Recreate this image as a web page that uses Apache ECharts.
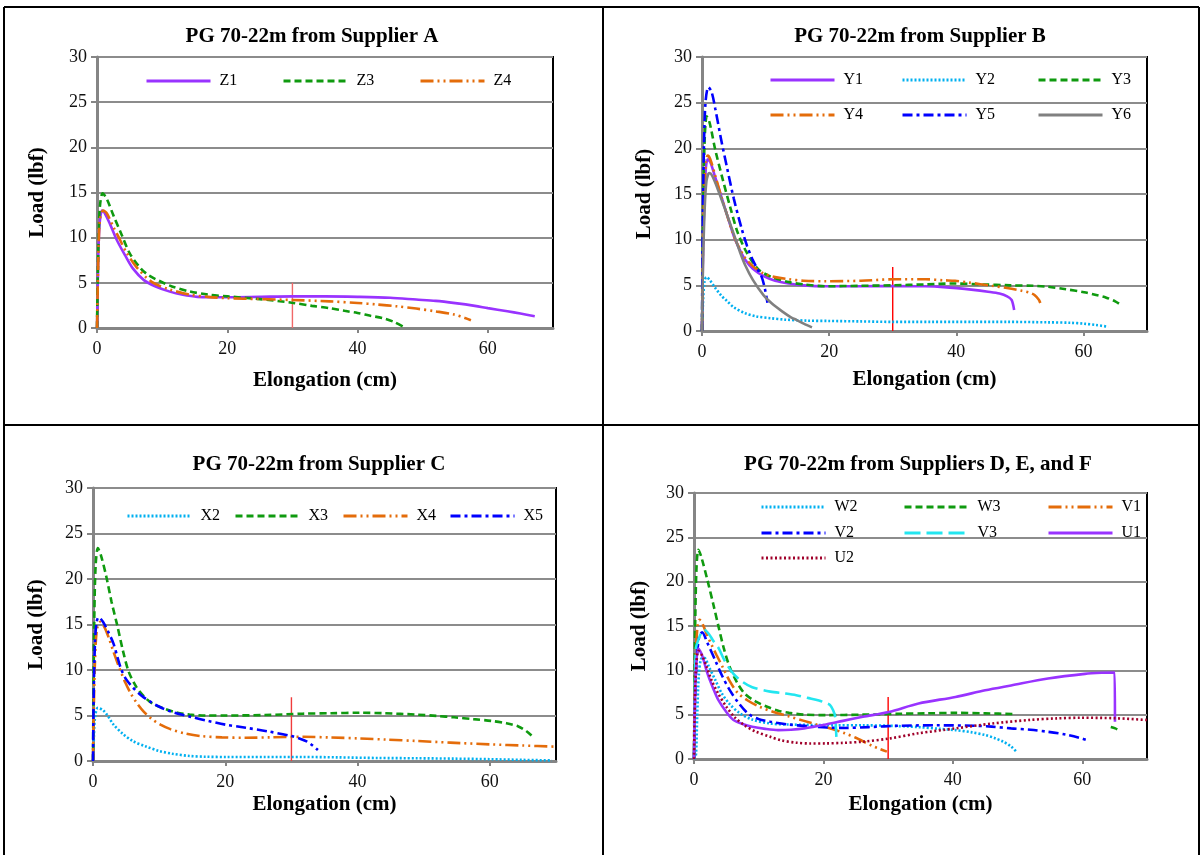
<!DOCTYPE html>
<html>
<head>
<meta charset="utf-8">
<script src="https://cdn.jsdelivr.net/npm/echarts@6/dist/echarts.min.js"></script>
<style>
html,body{margin:0;padding:0;background:#fff;}
#c{width:1201px;height:855px;}
</style>
</head>
<body>
<div id="c"></div>
<script>
// ---------- Panel titles / axis labels ----------
const panelTitles = ['PG 70-22m from Supplier A','PG 70-22m from Supplier B','PG 70-22m from Supplier C','PG 70-22m from Suppliers D, E, and F'];
const xAxisName = 'Elongation (cm)';
const yAxisName = 'Load (lbf)';
const xTicks = [0, 20, 40, 60];   // xmax 70
const yTicks = [0, 5, 10, 15, 20, 25, 30];

// ---------- Panel A ----------
const z1 = [[0,0],[0.1,4],[0.2,8],[0.35,11],[0.55,12.5],[0.8,13],[1.2,12.7],[2,11.5],[3,9.8],[4.35,8.0],[5.5,6.6],[7.2,5.3],[9,4.6],[11.3,4.0],[13,3.7],[15.4,3.45],[20,3.4],[25,3.45],[30,3.5],[35,3.5],[40,3.45],[45,3.35],[49,3.15],[52,3.0],[55,2.75],[58,2.45],[60,2.2],[63,1.85],[65,1.6],[67.2,1.3]];
const z3 = [[0,0],[0.1,5],[0.25,10],[0.45,13.5],[0.87,14.9],[1.5,14.3],[2.5,12.5],[3.8,10.3],[5,8.3],[6.7,6.6],[8,5.8],[9.6,5.2],[11.5,4.6],[14.2,4.05],[17,3.7],[20,3.5],[25,3.2],[29.9,2.8],[33,2.45],[35.7,2.2],[38,1.9],[40,1.66],[42,1.35],[43.8,1.1],[45.5,0.7],[47,0.15]];
const z4 = [[0,0],[0.1,4],[0.25,9],[0.45,12],[0.95,13],[1.5,12.7],[2.5,11.2],[3.5,9.8],[4.5,8.4],[6,6.8],[8.4,5.1],[11,4.3],[14.2,3.7],[17,3.45],[20,3.3],[25,3.2],[29.9,3.1],[35.7,2.95],[40,2.77],[43,2.6],[46,2.4],[49,2.15],[51.9,1.85],[54.8,1.5],[56.5,1.1],[57.4,0.85]];
const markA = [[30,0],[30,5]];

// ---------- Panel B ----------
const y1 = [[0,0],[0.15,8],[0.35,14],[0.6,17.8],[0.9,18.8],[1.3,18.5],[2,17],[3,14.8],[3.9,12.8],[5,10.4],[6,8.8],[6.8,7.8],[8,6.8],[9.7,6.0],[11.5,5.5],[13.7,5.2],[16,5.0],[19.5,4.9],[25,4.9],[30,4.93],[35,4.9],[38,4.8],[42.7,4.5],[45,4.3],[46.8,4.1],[48,3.8],[48.7,3.4],[49.1,2.3]];
const y2 = [[0,0],[0.15,3],[0.4,5.5],[0.7,5.9],[1.2,5.6],[2,4.8],[3,3.9],[3.9,3.3],[5,2.6],[6.8,1.95],[8.5,1.6],[10.8,1.4],[13,1.25],[16.6,1.13],[20,1.1],[25,1.05],[30,1.0],[36,1.0],[42.7,1.0],[48,1.0],[54.3,0.95],[58,0.9],[60.1,0.8],[62,0.65],[63.9,0.47]];
const y3 = [[0,0],[0.1,8],[0.25,16],[0.45,21.5],[0.75,23.5],[1.2,22.8],[2.1,19.8],[3.3,16.5],[4.5,13.4],[5.6,10.8],[6.8,8.9],[8,7.5],[9.1,6.6],[11,5.9],[13.7,5.35],[16,5.1],[19.5,4.9],[25,4.95],[30,5.0],[35,5.1],[39.8,5.2],[44,5.1],[48.5,5.0],[52,4.95],[54.3,4.85],[57,4.6],[60.1,4.25],[62,3.95],[63.6,3.65],[65,3.25],[65.9,2.85]];
const y4 = [[0,0],[0.15,9],[0.35,15],[0.6,18.5],[0.9,19.2],[1.3,18.8],[2,17.2],[3,14.8],[3.9,12.8],[5,10.4],[6,8.9],[6.8,8.0],[8,7.1],[9.7,6.3],[11.5,5.9],[13.7,5.66],[16,5.5],[19.5,5.45],[25,5.5],[30,5.66],[35.2,5.66],[38,5.55],[39.8,5.5],[42,5.3],[45.6,4.95],[48,4.7],[50.3,4.4],[51.5,4.2],[52.3,3.95],[53,3.4],[53.4,2.67]];
const y5 = [[0,0],[0.1,10],[0.3,20],[0.55,25],[1.0,26.7],[1.5,26.2],[2.1,24.3],[3,21],[3.9,18],[5,14.5],[6.2,11.3],[7.1,9.3],[7.9,7.9],[8.7,6.8],[9.4,5.9],[9.9,4.6],[10.3,3.1]];
const y6 = [[0,0],[0.15,7],[0.4,13],[0.7,16.4],[1.16,17.3],[1.6,17],[2.5,15.5],[3.9,12.8],[5,10.6],[6,8.6],[6.8,7.2],[8,5.6],[9.7,3.9],[11,3.0],[12.6,2.15],[14,1.5],[14.9,1.2],[16,0.8],[17.3,0.4]];
const markB = [[30,0],[30,7]];

// ---------- Panel C ----------
const x2 = [[0,0],[0.1,2],[0.3,4.8],[0.74,5.84],[1.5,5.6],[2.2,5.0],[3.1,4.0],[4.5,3.0],[6,2.2],[8,1.6],[10,1.1],[12,0.8],[14.6,0.55],[17,0.47],[20.3,0.44],[26,0.44],[31.7,0.44],[37,0.4],[43.1,0.33],[49,0.3],[54.6,0.26],[60,0.2],[65,0.12],[69.4,0.07]];
const x3 = [[0,0],[0.08,8],[0.2,16],[0.4,21.5],[0.74,23.4],[1.2,22.6],[2,20.3],[2.8,17.5],[3.7,14.8],[4.5,12.2],[5.4,9.8],[6.5,8.2],[7.7,7.1],[9,6.3],[10.6,5.8],[12.5,5.35],[14.6,5.1],[17,5.0],[20.3,5.0],[26,5.05],[31.7,5.2],[36,5.25],[40.3,5.3],[44,5.25],[48.9,5.1],[52,4.95],[54.6,4.8],[57.5,4.6],[60.3,4.4],[62.5,4.15],[64.3,3.8],[65.5,3.3],[66.3,2.8]];
const x4 = [[0,0],[0.1,5],[0.3,11],[0.6,14.5],[1.14,15.3],[1.8,14.6],[2.5,13.3],[3.1,12.0],[4,10.2],[4.9,8.6],[5.8,7.3],[6.6,6.4],[7.7,5.4],[8.9,4.6],[10.2,4.0],[11.7,3.5],[13.8,3.05],[16.3,2.74],[19.5,2.6],[23.1,2.55],[27,2.6],[31.7,2.66],[36,2.58],[40.3,2.48],[44.5,2.35],[48.9,2.2],[54,2.02],[60.3,1.82],[65,1.7],[70,1.57]];
const x5 = [[0,0],[0.1,7],[0.3,13],[0.55,15.3],[0.86,15.8],[1.5,15.3],[2.3,14.2],[3.1,12.9],[3.7,11.4],[4.3,10.0],[5,9.0],[6,8.1],[7.3,7.2],[8.9,6.4],[10.5,5.8],[12.3,5.3],[14.8,4.85],[17.4,4.4],[20,4.0],[23.1,3.65],[26.5,3.25],[30,2.74],[31.3,2.45],[32.3,2.15],[33.2,1.7],[34,1.2]];
const markC = [[30,0],[30,7]];

// ---------- Panel D ----------
const w2 = [[0,0],[0.3,0.5],[0.5,5],[0.75,9.5],[1.1,11.3],[1.6,11.4],[2.3,10.4],[3.3,8.9],[4.3,7.4],[5.5,6.2],[7,5.2],[9,4.45],[11.8,4.0],[14,3.9],[17.5,3.85],[22,3.8],[26.1,3.8],[30,3.75],[34.7,3.6],[38,3.4],[40.4,3.26],[43,3.0],[45,2.7],[46.5,2.35],[47.8,1.95],[49,1.4],[49.8,0.83]];
const w3 = [[0,0],[0.08,8],[0.2,16],[0.4,21.8],[0.69,23.6],[1.2,22.6],[2.1,20.1],[3,17.4],[3.8,14.9],[4.6,12.5],[5.5,10.4],[6.6,8.7],[7.8,7.4],[9.5,6.5],[11.3,5.9],[13,5.45],[14.7,5.2],[17,5.0],[20.4,4.95],[26,5.0],[31.8,5.1],[36,5.15],[40.4,5.2],[45,5.15],[49.8,5.06],[57,'-'],[64.4,3.6],[65.1,3.45],[65.8,3.2]];
const v1 = [[0,0],[0.1,6],[0.3,12],[0.55,15],[0.86,15.7],[1.4,15.1],[2,14.0],[2.7,12.9],[3.5,11.7],[4.4,10.4],[5.5,8.8],[6.7,7.5],[8.3,6.6],[10.1,5.9],[12.3,5.3],[14.7,4.8],[17,4.3],[19.3,3.8],[21.5,3.35],[23.3,2.9],[25,2.4],[26.1,2.0],[27.5,1.5],[28.8,1.1],[29.8,0.83]];
const v2 = [[0,0],[0.15,6],[0.4,11],[0.8,13.8],[1.26,14.3],[2,13.2],[3.3,11.1],[4.4,9.3],[5.5,7.8],[6.9,6.3],[8.4,5.1],[10,4.5],[11.8,4.2],[14.5,3.9],[17.5,3.7],[20.5,3.55],[23.3,3.5],[27,3.6],[31.8,3.75],[37.5,3.8],[43.3,3.75],[46,3.65],[49,3.45],[52,3.3],[54.7,3.07],[57.5,2.75],[59.5,2.4],[61,2.06]];
const v3 = [[0,0],[0.1,6],[0.3,12.5],[0.7,13.5],[1.1,14.2],[1.54,14.6],[2.3,14.1],[3,13.3],[3.8,12.5],[4.8,11.0],[6.1,9.6],[7.5,8.7],[9,8.1],[11.8,7.6],[14,7.4],[15.8,7.2],[17.5,6.9],[19.3,6.6],[20.4,6.3],[21,6.1],[21.5,5.5],[21.8,4.8],[22,2.5]];
const u1 = [[0,0],[0.1,5],[0.3,10],[0.69,12.45],[1.2,11.8],[2.1,9.6],[3,7.9],[3.8,6.6],[5,5.3],[6.1,4.4],[7.5,3.95],[9,3.64],[11,3.4],[13,3.26],[15,3.3],[17,3.45],[20.4,3.9],[23,4.3],[26.1,4.76],[30.1,5.3],[34.7,6.26],[40.4,7.0],[45,7.75],[49,8.3],[54.7,9.07],[60.4,9.6],[63,9.72],[65,9.75],[65.05,4.2]];
const u2 = [[0,0],[0.1,5],[0.3,10],[0.69,12.2],[1.3,11.6],[2,10.3],[2.7,8.9],[3.8,7.3],[5,5.9],[6.3,4.7],[7.8,3.8],[9.5,3.1],[11.8,2.5],[13.5,2.1],[15.8,1.84],[18,1.75],[20.4,1.76],[23,1.82],[26.1,1.95],[30.1,2.3],[34.7,2.9],[40.4,3.45],[46.1,4.0],[51.8,4.4],[56,4.58],[59.8,4.65],[65,4.6],[70,4.4]];
const markD = [[30,0],[30,7]];

// ---------- styles ----------
const FONT = 'Liberation Serif';
const ST = {
  purple: {color:'#9933ff', type:'solid', width:2.6},
  green:  {color:'#0f9a0f', type:[7,4], width:2.6},
  orange: {color:'#e46c0a', type:[13,4,2,4,2,4], width:2.6},
  cyanDot:{color:'#00b0f0', type:[2,2], width:2.6},
  blue:   {color:'#0000ff', type:[10,4,3,4], width:2.6},
  gray:   {color:'#808080', type:'solid', width:2.6},
  cyanLong:{color:'#22e6f0', type:[16,6], width:2.6},
  redDot: {color:'#a0002a', type:[2,2.5], width:2.6}
};

const grids = [
  {left:97, top:57, width:456, height:271},
  {left:702, top:57, width:445, height:274},
  {left:93, top:488, width:463, height:273},
  {left:694, top:493, width:453, height:266}
];
const xNameGap = [42, 38, 33, 35];
const yNameGap = [49, 47, 46, 44];
const titlePos = [[312,37],[920,37],[319,465],[918,465]];
const markColor = ['#f06868', '#ff0000', '#f03c3c', '#ff0000'];

const panels = [
  {series:[['Z1',z1,'purple'],['Z3',z3,'green'],['Z4',z4,'orange']], mark:markA,
   legend:[[145,79],[282,79],[419,79]]},
  {series:[['Y1',y1,'purple'],['Y2',y2,'cyanDot'],['Y3',y3,'green'],['Y4',y4,'orange'],['Y5',y5,'blue'],['Y6',y6,'gray']], mark:markB,
   legend:[[769,78],[901,78],[1037,78],[769,113],[901,113],[1037,113]]},
  {series:[['X2',x2,'cyanDot'],['X3',x3,'green'],['X4',x4,'orange'],['X5',x5,'blue']], mark:markC,
   legend:[[126,514],[234,514],[342,514],[449,514]]},
  {series:[['W2',w2,'cyanDot'],['W3',w3,'green'],['V1',v1,'orange'],['V2',v2,'blue'],['V3',v3,'cyanLong'],['U1',u1,'purple'],['U2',u2,'redDot']], mark:markD,
   legend:[[760,505],[903,505],[1047,505],[760,531],[903,531],[1047,531],[760,556]]}
];

const option = {
  animation:false,
  backgroundColor:'#fff',
  grid: grids.map(g => Object.assign({show:true, borderColor:'#000', borderWidth:2, backgroundColor:'transparent', containLabel:false}, g)),
  xAxis: grids.map((g,i) => ({
    type:'value', gridIndex:i, min:0, max:70, interval:20,
    name:xAxisName, nameLocation:'middle', nameGap:xNameGap[i],
    nameTextStyle:{fontFamily:FONT, fontSize:21, fontWeight:'bold', color:'#000'},
    axisLine:{show:true, onZero:false, lineStyle:{color:'#858585', width:3}},
    axisTick:{show:true, length:5, lineStyle:{color:'#858585', width:2}},
    axisLabel:{show:true, showMaxLabel:false, margin:12, fontFamily:FONT, fontSize:18, color:'#111'},
    splitLine:{show:false}
  })),
  yAxis: grids.map((g,i) => ({
    type:'value', gridIndex:i, min:0, max:30, interval:5,
    name:yAxisName, nameLocation:'middle', nameGap:yNameGap[i], nameRotate:90,
    nameTextStyle:{fontFamily:FONT, fontSize:21, fontWeight:'bold', color:'#000'},
    axisLine:{show:true, onZero:false, lineStyle:{color:'#858585', width:3}},
    axisTick:{show:true, length:6, lineStyle:{color:'#858585', width:2}},
    axisLabel:{show:true, margin:10, fontFamily:FONT, fontSize:18, color:'#111'},
    splitLine:{show:true, lineStyle:{color:'#8c8c8c', width:2}}
  })),
  legend: [],
  series: [],
  graphic: []
};

panels.forEach((p, i) => {
  p.series.forEach((s, k) => {
    const st = ST[s[2]];
    option.series.push({
      type:'line', name:s[0], xAxisIndex:i, yAxisIndex:i, data:s[1],
      showSymbol:false, symbol:'none', smooth:0.3, connectNulls:false,
      lineStyle:{color:st.color, type:st.type, width:st.width},
      itemStyle:{color:st.color}
    });
    option.legend.push({
      data:[s[0]], left:p.legend[k][0], top:p.legend[k][1]-6, orient:'horizontal', padding:0,
      itemWidth:64, itemHeight:16, itemGap:8, selectedMode:false,
      itemStyle:{opacity:0, borderWidth:0},
      lineStyle:{width:3},
      textStyle:{fontFamily:FONT, fontSize:16, color:'#000', padding:[0,0,0,4]}
    });
  });
  option.series.push({
    type:'line', name:'marker'+i, xAxisIndex:i, yAxisIndex:i, data:p.mark,
    showSymbol:false, symbol:'none', lineStyle:{color:markColor[i], width:1.4}, z:1
  });
  option.graphic.push({
    type:'text', x:titlePos[i][0], y:titlePos[i][1],
    style:{text:panelTitles[i], align:'center', verticalAlign:'middle', fontFamily:FONT, fontSize:21, fontWeight:'bold', fill:'#000'}
  });
});

// table borders
const borderLines = [[4,7,1199,7],[4,7,4,855],[1199,7,1199,855],[603,7,603,855],[4,425,1199,425]];
borderLines.forEach(b => option.graphic.push({
  type:'line', shape:{x1:b[0],y1:b[1],x2:b[2],y2:b[3]}, style:{stroke:'#000', lineWidth:2}
}));

const chart = echarts.init(document.getElementById('c'), null, {renderer:'canvas'});
chart.setOption(option);
</script>
</body>
</html>
